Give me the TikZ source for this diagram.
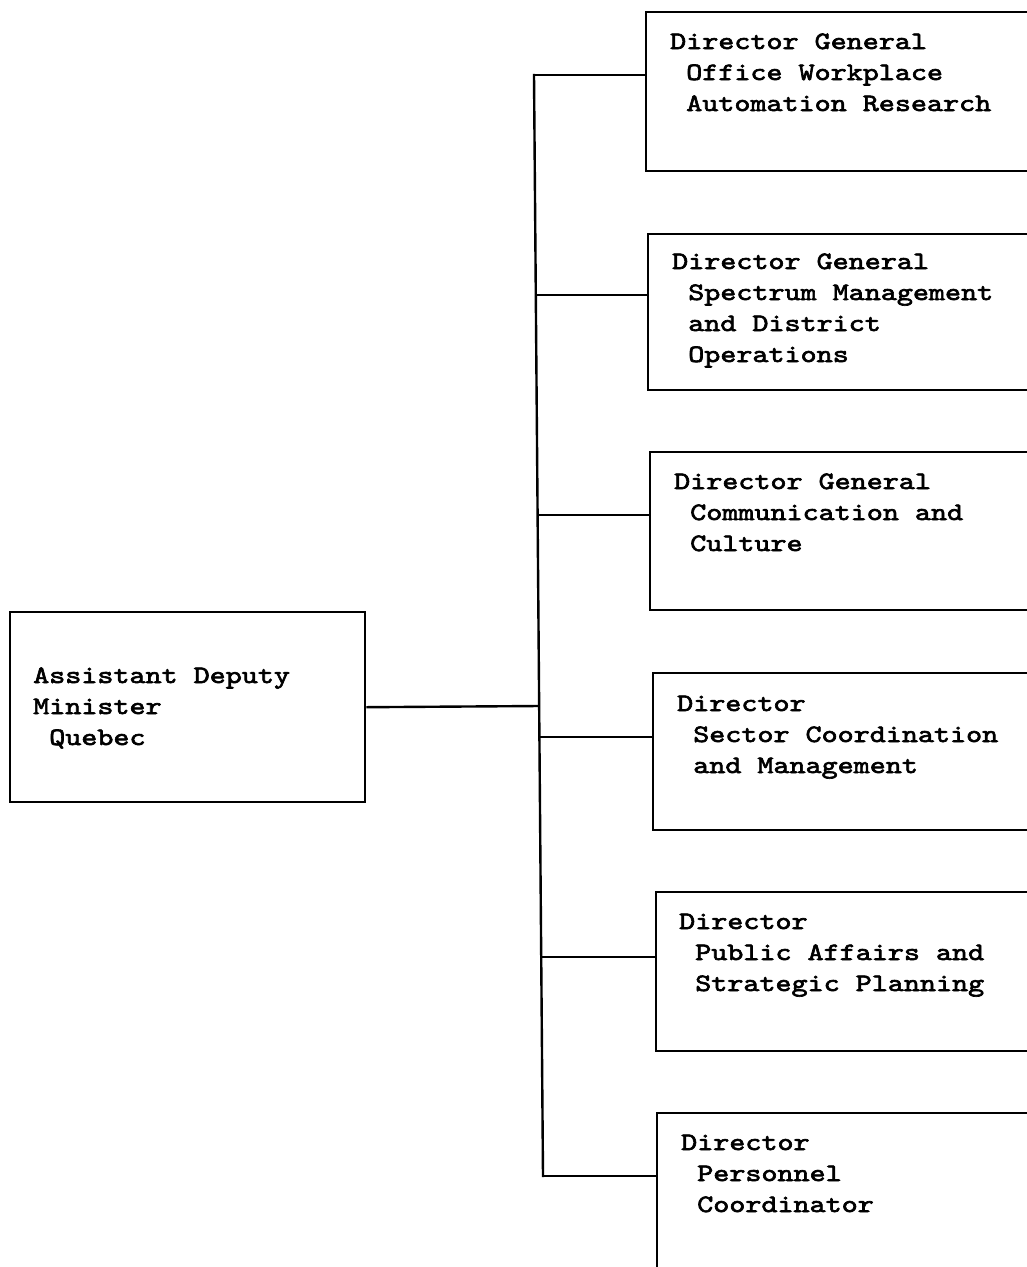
\documentclass[tikz,border=0pt]{standalone}
\usepackage{fontspec}
\newfontfamily\orgfont[FakeStretch=1.223, FakeBold=2.6]{lmmono10-regular.otf}
\begin{document}
\begin{tikzpicture}[x=1pt,y=-1pt,
  orgbox/.style={draw, line width=2.4pt, rectangle, anchor=north west, inner sep=0pt},
  boxtext/.style={anchor=base west, inner sep=0pt,
    font=\orgfont\fontsize{25}{31}\selectfont},
  link/.style={line width=2.4pt}]
\useasboundingbox (0,0) rectangle (1027,1267);
\clip (0,0) rectangle (1027,1267);
\fill[white] (0,0) rectangle (1027,1267);

% head of the sector
\node[orgbox, minimum width=355pt, minimum height=190pt] (adm) at (9,611) {};
\node[boxtext] (admtxt) at (33,683) {\begin{tabular}[t]{@{}l@{}}Assistant Deputy\\Minister\\\ Quebec\end{tabular}};

% reporting units
\node[orgbox, minimum width=395pt, minimum height=159pt] (b1) at (645,11) {};
\node[orgbox, minimum width=393pt, minimum height=156pt] (b2) at (647,233) {};
\node[orgbox, minimum width=391pt, minimum height=158pt] (b3) at (649,451) {};
\node[orgbox, minimum width=388pt, minimum height=157pt] (b4) at (652,672) {};
\node[orgbox, minimum width=385pt, minimum height=159pt] (b5) at (655,891) {};
\node[orgbox, minimum width=384pt, minimum height=180pt] (b6) at (656,1112) {};

\node[boxtext] (t1txt) at (670,49) {\begin{tabular}[t]{@{}l@{}}Director General\\\ Office Workplace\\\ Automation Research\end{tabular}};
\node[boxtext] (t2txt) at (672,269) {\begin{tabular}[t]{@{}l@{}}Director General\\\ Spectrum Management\\\ and District\\\ Operations\end{tabular}};
\node[boxtext] (t3txt) at (674,489) {\begin{tabular}[t]{@{}l@{}}Director General\\\ Communication and\\\ Culture\end{tabular}};
\node[boxtext] (t4txt) at (677,711) {\begin{tabular}[t]{@{}l@{}}Director\\\ Sector Coordination\\\ and Management\end{tabular}};
\node[boxtext] (t5txt) at (679,929) {\begin{tabular}[t]{@{}l@{}}Director\\\ Public Affairs and\\\ Strategic Planning\end{tabular}};
\node[boxtext] (t6txt) at (681,1150) {\begin{tabular}[t]{@{}l@{}}Director\\\ Personnel\\\ Coordinator\end{tabular}};

% junctions on the vertical trunk
\coordinate (j1) at (534,75);
\coordinate (j2) at (535.8,295);
\coordinate (j3) at (537.6,515);
\coordinate (j0) at (539.2,706);
\coordinate (j4) at (539.4,737);
\coordinate (j5) at (541.2,957);
\coordinate (j6) at (543,1176);

\draw[link, line cap=rect] (j1) -- (j6);
\draw[link] (adm.east) -- (j0);
\foreach \i in {1,...,6}{
  \draw[link] (j\i) -- (j\i -| b\i.west);
}
\end{tikzpicture}
\end{document}
